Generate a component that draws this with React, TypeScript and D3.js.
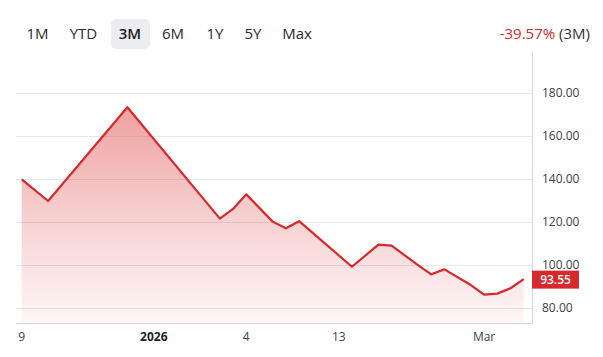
import React from "react";
import * as d3 from "d3";

const ranges = ["1M", "YTD", "3M", "6M", "1Y", "5Y", "Max"];
const rangeCenters = [37.5, 83.5, 130, 173, 215, 253, 297];
const activeRange = "3M";
const changeText = "-39.57%";
const changePeriod = "(3M)";

// point index (sample position along the 3M series) and closing price at the line's vertices
const pointIndex = [0, 2, 8, 15, 16, 17, 19, 20, 21, 25, 27, 28, 30, 31, 32, 34, 35, 36, 37, 38];
const prices = [140.0, 129.9, 173.5, 121.7, 126.2, 133.0, 120.3, 117.2, 120.5, 99.3, 109.6, 109.1, 100.1, 95.8, 98.1, 90.8, 86.3, 86.8, 89.3, 93.55];
const lastPrice = 93.55;

const yTicks = [80, 100, 120, 140, 160, 180];
const xTickIndex = [0, 10, 17, 24, 35];
const xTickLabels = ["9", "2026", "4", "13", "Mar"];
const xTickBold = [false, true, false, false, false];

const FONT = "'Segoe UI', 'Open Sans', sans-serif";
const RED = "#d7282c";

export default function App() {
  const W = 603, H = 357;
  const plotLeft = 16, plotRight = 532, plotTop = 52, plotBottom = 323.3;
  const x = d3.scaleLinear().domain([0, 38]).range([21.7, 523.7]);
  const y = d3.scaleLinear().domain([73, 180]).range([plotBottom, 93.3]);
  const data = pointIndex.map((i, k) => ({ i, v: prices[k] }));
  const line = d3.line<any>().x(d => x(d.i)).y(d => y(d.v));
  const area = d3.area<any>().x(d => x(d.i)).y0(plotBottom).y1(d => y(d.v));
  const peakY = y(d3.max(prices) as number);

  return (
    <div style={{ margin: -8, width: W, height: H, overflow: "hidden", background: "#fff" }}>
      <svg width={W} height={H} style={{ display: "block", fontFamily: FONT }}>
        <defs>
          <linearGradient id="areaGrad" gradientUnits="userSpaceOnUse" x1="0" x2="0" y1={peakY} y2={plotBottom}>
            <stop offset="0" stopColor="#dc2828" stopOpacity={0.44} />
            <stop offset="0.5" stopColor="#dc2828" stopOpacity={0.22} />
            <stop offset="1" stopColor="#dc2828" stopOpacity={0.04} />
          </linearGradient>
        </defs>
        <rect x={0} y={0} width={592} height={2} fill="#1f5d87" />
        <line x1={3.5} x2={3.5} y1={17} y2={H} stroke="#d6d6d6" strokeWidth={1} />

        {/* header range buttons */}
        <rect x={111} y={19} width={39} height={30} rx={5} fill="#ebedf0" />
        {ranges.map((r, k) => (
          <text key={r} x={rangeCenters[k]} y={39} textAnchor="middle" fontSize={15}
            fontWeight={r === activeRange ? 600 : 400} fill={r === activeRange ? "#1b1b1b" : "#2b2b2b"}>
            {r}
          </text>
        ))}
        <text x={590} y={39} textAnchor="end" fontSize={15}>
          <tspan fill={RED}>{changeText}</tspan>
          <tspan fill="#333"> {changePeriod}</tspan>
        </text>

        {/* grid */}
        {yTicks.map(t => (
          <line key={t} x1={plotLeft} x2={plotRight} y1={Math.round(y(t)) + 0.5} y2={Math.round(y(t)) + 0.5} stroke="#e8e8e8" />
        ))}

        <path d={area(data) || ""} fill="url(#areaGrad)" />
        <path d={line(data) || ""} fill="none" stroke={RED} strokeWidth={2.2} strokeLinejoin="round" />

        {/* axes */}
        <line x1={plotLeft} x2={plotRight + 0.5} y1={323.5} y2={323.5} stroke="#d6d6d6" />
        <line x1={532.5} x2={532.5} y1={plotTop} y2={323.5} stroke="#d6d6d6" />

        {yTicks.map(t => (
          <text key={t} x={542} y={y(t)} dy="0.33em" fontSize={12} fill="#404040">{d3.format(".2f")(t)}</text>
        ))}
        {xTickIndex.map((i, k) => (
          <text key={k} x={x(i)} y={337} dy="0.35em" textAnchor="middle" fontSize={12}
            fontWeight={xTickBold[k] ? 700 : 400} fill={xTickBold[k] ? "#222" : "#444"}>
            {xTickLabels[k]}
          </text>
        ))}

        {/* last price tag */}
        <rect x={532} y={y(lastPrice) - 8.5} width={47} height={18} fill={RED} />
        <text x={555.5} y={y(lastPrice) + 1} dy="0.36em" textAnchor="middle" fontSize={12} fontWeight={600} fill="#fff">
          {d3.format(".2f")(lastPrice)}
        </text>
      </svg>
    </div>
  );
}
